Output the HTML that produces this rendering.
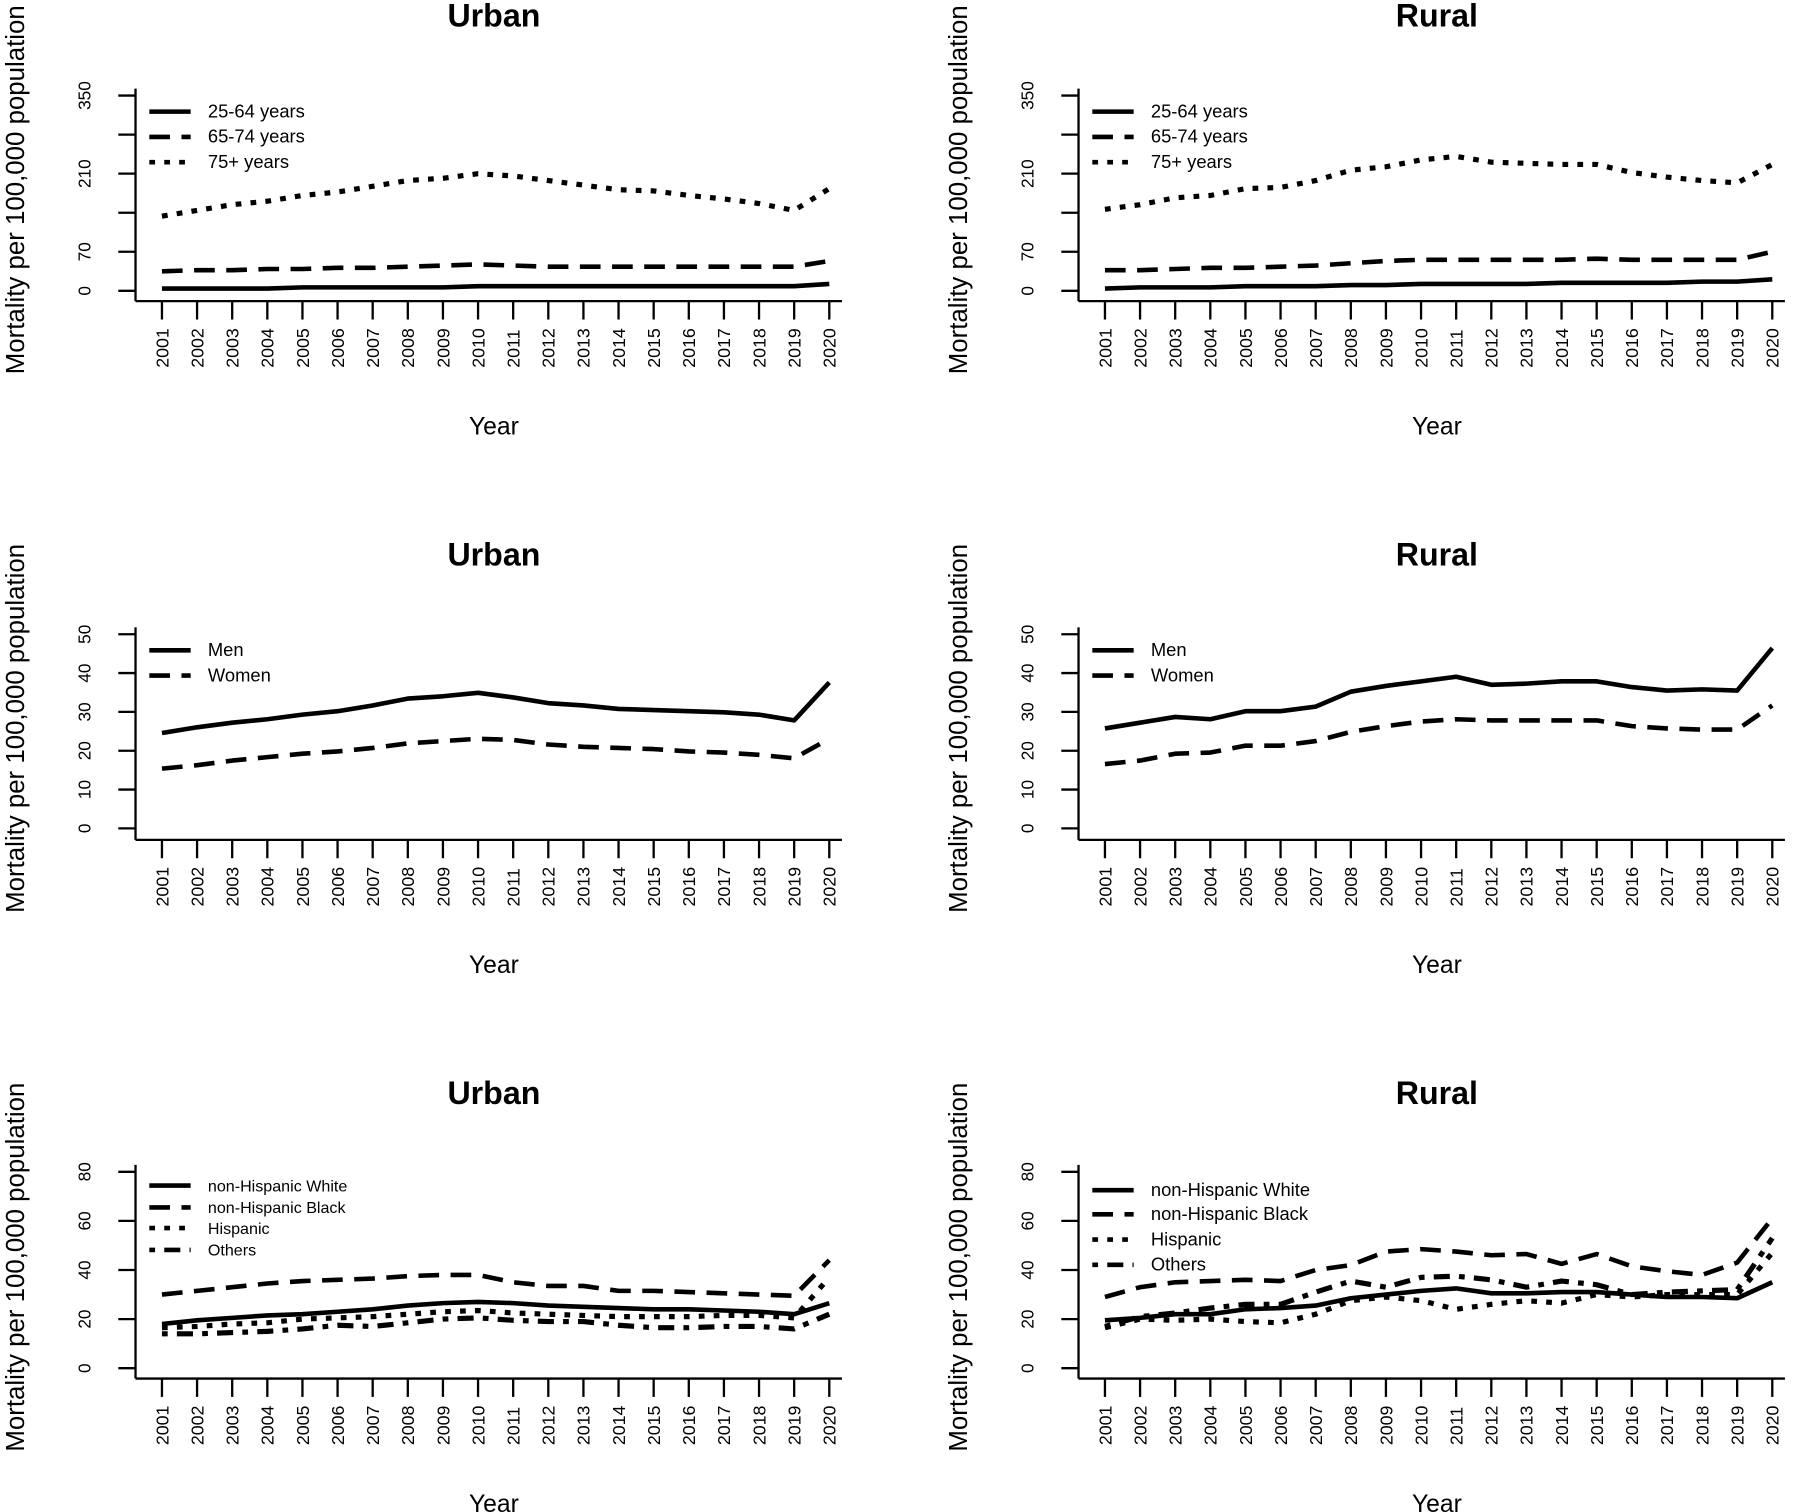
<!DOCTYPE html>
<html><head><meta charset="utf-8"><style>html,body{margin:0;padding:0;background:#fff}svg{display:block}</style></head>
<body>
<svg id="s" xmlns="http://www.w3.org/2000/svg" width="1801" height="1512" viewBox="0 0 1568 1316" font-family="Liberation Sans, Arial, sans-serif"></svg>
<script>
const S=document.getElementById('s');let h='';
const X0=141,DX=(722-141)/19;
function line(pts,dash,w){return `<polyline points="${pts.map(p=>p.join(',')).join(' ')}" fill="none" stroke="#000" stroke-width="${w||4}" stroke-linejoin="round" ${dash?`stroke-dasharray="${dash}"`:''}/>`;}
const D={solid:'',dash:'18 10',dot:'5 8',dotdash:'5 8 14 8'};
function panel(ox,oy,title,ticks,yzero,ypx,series,legend,lfs,lys){
  h+=`<text x="${430+ox}" y="${13+oy+10}" font-size="28" font-weight="bold" text-anchor="middle">${title}</text>`;
  h+=`<text transform="translate(${21+ox},${165+oy}) rotate(-90)" font-size="22.5" text-anchor="middle">Mortality per 100,000 population</text>`;
  const ytop=ypx(ticks[ticks.length-1][0]);
  h+=`<line x1="${118+ox}" y1="${ytop-6+oy}" x2="${118+ox}" y2="${262+oy}" stroke="#000" stroke-width="2"/>`;
  for(const [v,l] of ticks){const y=ypx(v)+oy;h+=`<line x1="${103+ox}" y1="${y}" x2="${118+ox}" y2="${y}" stroke="#000" stroke-width="2"/>`;
    if(l)h+=`<text transform="translate(${79+ox},${y}) rotate(-90)" font-size="15" text-anchor="middle">${l}</text>`;}
  h+=`<line x1="${118+ox}" y1="${262+oy}" x2="${733+ox}" y2="${262+oy}" stroke="#000" stroke-width="2"/>`;
  for(let i=0;i<20;i++){const x=X0+i*DX+ox;h+=`<line x1="${x}" y1="${262+oy}" x2="${x}" y2="${278+oy}" stroke="#000" stroke-width="2"/>`;
    h+=`<text transform="translate(${x+5.5},${320+oy}) rotate(-90)" font-size="15.5">${2001+i}</text>`;}
  h+=`<text x="${430+ox}" y="${378+oy}" font-size="21.5" text-anchor="middle">Year</text>`;
  for(const [vals,st] of series){h+=line(vals.map((v,i)=>[X0+i*DX+ox,ypx(v)+oy]),D[st],st=='dot'||st=='dotdash'?4.5:4);}
  legend.forEach(([t,st],i)=>{const y=lys[i]+oy;h+=line([[130+ox,y],[166+ox,y]],D[st]);h+=`<text x="${181+ox}" y="${y+5}" font-size="${lfs}">${t}</text>`;});
}
const y1=v=>253-v*34/70, y2=v=>721-v*169/50;
const Y2=v=>y2(v)-469;
const t1=[[0,'0'],[70,'70'],[140,''],[210,'210'],[280,''],[350,'350']];
const t2=[[0,'0'],[10,'10'],[20,'20'],[30,'30'],[40,'40'],[50,'50']];
const t3=[[0,'0'],[20,'20'],[40,'40'],[60,'60'],[80,'80']];
const inv1=a=>a.map(y=>(253-y)*70/34);
panel(0,0,'Urban',t1,0,y1,[
 [inv1([251,251,251,251,250,250,250,250,250,249,249,249,249,249,249,249,249,249,249,247]),'solid'],
 [inv1([236,235,235,234,234,233,233,232,231,230,231,232,232,232,232,232,232,232,232,227]),'dash'],
 [inv1([188,183,178,175,170,167,162,157,155,151,153,157,161,165,166,170,173,177,183,164]),'dot']],
 [['25-64 years','solid'],['65-74 years','dash'],['75+ years','dot']],16,[97,119,141]);
panel(821,0,'Rural',t1,0,y1,[
 [inv1([251,250,250,250,249,249,249,248,248,247,247,247,247,246,246,246,246,245,245,243]),'solid'],
 [inv1([235,235,234,233,233,232,231,229,227,226,226,226,226,226,225,226,226,226,226,219]),'dash'],
 [inv1([182,178,172,170,164,163,157,148,145,139,136,141,142,143,143,150,154,157,159,143]),'dot']],
 [['25-64 years','solid'],['65-74 years','dash'],['75+ years','dot']],16,[97,119,141]);
const inv2=a=>a.map(y=>(721-y)*50/169);
panel(0,469,'Urban',t2,0,Y2,[
 [inv2([638,633,629,626,622,619,614,608,606,603,607,612,614,617,618,619,620,622,627,594]),'solid'],
 [inv2([669,666,662,659,656,654,651,647,645,643,644,648,650,651,652,654,655,657,660,643]),'dash']],
 [['Men','solid'],['Women','dash']],16,[97,119]);
panel(821,469,'Rural',t2,0,Y2,[
 [inv2([634,629,624,626,619,619,615,602,597,593,589,596,595,593,593,598,601,600,601,564]),'solid'],
 [inv2([665,662,656,655,649,649,645,637,632,628,626,627,627,627,627,632,634,635,635,614]),'dash']],
 [['Men','solid'],['Women','dash']],16,[97,119]);
const Y3=v=>1191-938-v*171/80;
panel(0,938,'Urban',t3,0,Y3,[
 [[18,19.5,20.5,21.5,22,23,24,25.5,26.5,27,26.5,25.5,25,24.5,24,24,23.5,23,22,26.5],'solid'],
 [[30,31.5,33,34.5,35.5,36,36.5,37.5,38,38,35,33.5,33.5,31.5,31.5,31,30.5,30,29.5,44],'dash'],
 [[16.5,17,18,18.5,20,20.5,21,22,23,23.5,22.5,22,21.5,21,21,21,21.5,21.5,20.5,37],'dot'],
 [[14,14,14.5,15,16,17.5,17,18.5,20,20.5,19.5,19,19,17.5,16.5,16.5,17,17,16,22],'dotdash']],
 [['non-Hispanic White','solid'],['non-Hispanic Black','dash'],['Hispanic','dot'],['Others','dotdash']],14,[94,113,131,150]);
panel(821,938,'Rural',t3,0,Y3,[
 [[19.5,20.5,22,22,24,24.5,25.5,28.5,30,31.5,32.5,30.5,30.5,31,31,30,29,29,28.5,35],'solid'],
 [[29,33,35,35.5,36,35.5,40,42,47.5,48.5,47.5,46,46.5,42.5,46.5,41.5,39.5,38,43,61],'dash'],
 [[16.5,20,19.5,20,19,18.5,22,27.5,29,27.5,24,26,27.5,26.5,30,29,30,30,30,47],'dot'],
 [[17,21,22.5,24.5,26,26,31,35.5,33,37,37.5,36,33,35.5,34,30,31,31.5,32,53],'dotdash']],
 [['non-Hispanic White','solid'],['non-Hispanic Black','dash'],['Hispanic','dot'],['Others','dotdash']],16,[98,119,141,163]);
S.innerHTML=h;
</script>
</body></html>
